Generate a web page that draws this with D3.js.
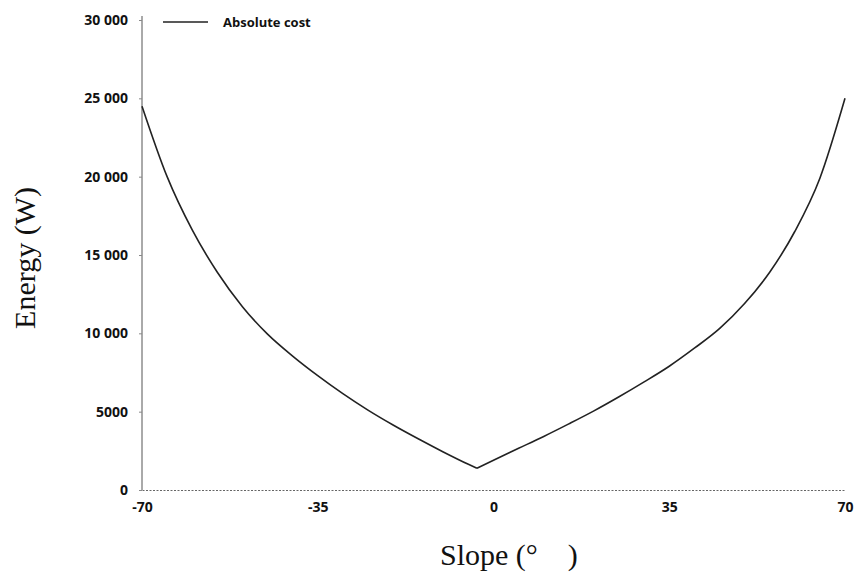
<script src="https://d3js.org/d3.v7.min.js"></script>

<style>
  body { margin: 0; background: #fff; }
  svg text { fill: #111; }
  .tick text { font: bold 14px "Open Sans", sans-serif; }
  .title { font-family: "Liberation Serif", "Times New Roman", serif; font-size: 30px; }
</style>

<body>
<script>
  // values
  var slopes = [-70, -65, -60, -55, -50, -45, -40, -35, -30, -25, -20, -15, -10, -5, -3.3,
                0, 5, 10, 15, 20, 25, 30, 35, 40, 45, 50, 55, 60, 65, 70];
  var energy = [24500, 20000, 16600, 13900, 11700, 9950, 8550, 7300, 6150, 5100, 4150, 3270, 2430, 1640, 1390,
                1900, 2660, 3420, 4220, 5050, 5950, 6900, 7900, 9050, 10300, 11900, 13900, 16500, 19900, 25000];
  var xTicks = [-70, -35, 0, 35, 70];
  var yTicks = [0, 5000, 10000, 15000, 20000, 25000, 30000];
  var seriesName = "Absolute cost";

  var data = slopes.map(function(s, i) { return {x: s, y: energy[i]}; });
  var iMin = d3.minIndex(energy);

  var width = 855, height = 577;
  var mLeft = 142, mRight = 845, mTop = 20, mBottom = 490;

  var svg = d3.select("body").append("svg")
    .attr("width", width)
    .attr("height", height);

  var x = d3.scaleLinear().domain([-70, 70]).range([mLeft, mRight]);
  var y = d3.scaleLinear().domain([0, 30000]).range([mBottom, mTop]);

  var yFmt = function(d) {
    return d >= 10000 ? d3.format(",")(d).replace(",", " ") : d;
  };

  // y axis
  var yAxis = svg.append("g")
    .attr("transform", "translate(" + mLeft + ",0)")
    .call(d3.axisLeft(y).tickValues(yTicks).tickSize(3).tickPadding(11).tickFormat(yFmt));
  yAxis.select(".domain").attr("stroke", "#555").attr("d", "M0," + (mTop - 4) + "V" + mBottom);
  yAxis.selectAll(".tick line").attr("stroke", "#888");

  // x axis
  var xAxis = svg.append("g")
    .attr("transform", "translate(0," + mBottom + ")")
    .call(d3.axisBottom(x).tickValues(xTicks).tickSize(0).tickPadding(12)
      .tickFormat(function(d) { return String(d); }));
  xAxis.select(".domain").attr("stroke", "#666").attr("stroke-dasharray", "2,1.5");

  // curve, two branches so the minimum stays a sharp corner
  var line = d3.line()
    .x(function(d) { return x(d.x); })
    .y(function(d) { return y(d.y); })
    .curve(d3.curveMonotoneX);

  svg.selectAll("path.branch")
    .data([data.slice(0, iMin + 1), data.slice(iMin)])
    .enter().append("path")
    .attr("class", "branch")
    .attr("fill", "none")
    .attr("stroke", "#222")
    .attr("stroke-width", 1.6)
    .attr("stroke-linejoin", "round")
    .attr("d", line);

  // legend
  svg.append("line")
    .attr("x1", 163).attr("x2", 208)
    .attr("y1", 22).attr("y2", 22)
    .attr("stroke", "#222").attr("stroke-width", 1.6);
  svg.append("text")
    .attr("x", 223).attr("y", 27)
    .style("font", "bold 13px 'Open Sans', sans-serif")
    .text(seriesName);

  // axis titles
  svg.append("text")
    .attr("class", "title")
    .attr("transform", "translate(35,258) rotate(-90)")
    .attr("text-anchor", "middle")
    .text("Energy (W)");

  svg.append("text")
    .attr("class", "title")
    .attr("x", 440).attr("y", 565)
    .text("Slope (°\u2003)");
</script>
</body>
